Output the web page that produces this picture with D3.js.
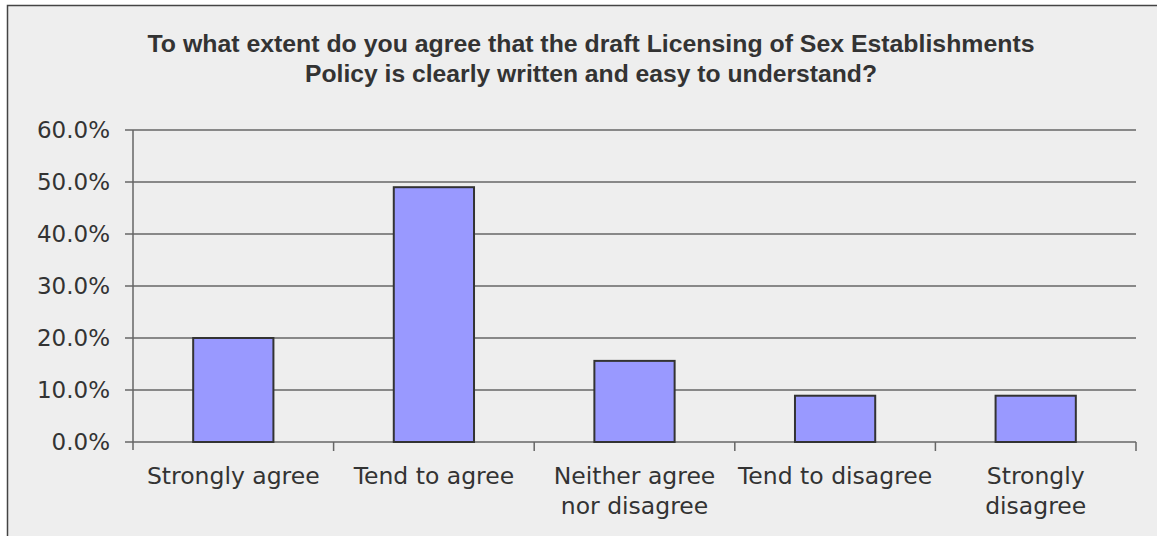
<!DOCTYPE html>
<html><head><meta charset="utf-8">
<script src="https://cdn.jsdelivr.net/npm/d3@7"></script>
<style>body{margin:0;background:#fff;}svg{display:block;}</style>
</head><body>
<svg id="c" width="1157" height="536"></svg>
<script>
const categories = [["Strongly agree"], ["Tend to agree"], ["Neither agree", "nor disagree"], ["Tend to disagree"], ["Strongly", "disagree"]];
const values = [0.200, 0.490, 0.156, 0.089, 0.089];
const yTicks = [0, 0.1, 0.2, 0.3, 0.4, 0.5, 0.6];
const titleLines = ["To what extent do you agree that the draft Licensing of Sex Establishments", "Policy is clearly written and easy to understand?"];

const svg = d3.select("#c");
svg.append("rect").attr("x", 7.5).attr("y", 5.5).attr("width", 1160).attr("height", 540)
  .attr("fill", "#eeeeee").attr("stroke", "#444").attr("stroke-width", 1.5);

const m = {left: 133, right: 1136, top: 130, bottom: 442};
const x = d3.scaleBand().domain(d3.range(categories.length)).range([m.left, m.right]).paddingInner(0.6).paddingOuter(0.3);
const xb = d3.scaleBand().domain(d3.range(categories.length)).range([m.left, m.right]);
const y = d3.scaleLinear().domain([0, 0.6]).range([m.bottom, m.top]);

// gridlines
svg.append("g").selectAll("line").data(yTicks).join("line")
  .attr("x1", m.left - 8).attr("x2", m.right).attr("y1", d => y(d)).attr("y2", d => y(d))
  .attr("stroke", "#666").attr("stroke-width", 1.5);

// y axis line
svg.append("line").attr("x1", m.left).attr("x2", m.left).attr("y1", m.top).attr("y2", m.bottom + 8)
  .attr("stroke", "#666").attr("stroke-width", 1.5);

// x ticks
svg.append("g").selectAll("line").data(d3.range(1, categories.length + 1)).join("line")
  .attr("x1", i => xb.step() * i + m.left).attr("x2", i => xb.step() * i + m.left)
  .attr("y1", m.bottom).attr("y2", m.bottom + 9).attr("stroke", "#666").attr("stroke-width", 1.5);

// y labels
svg.append("g").selectAll("text").data(yTicks).join("text")
  .attr("x", 110).attr("y", d => y(d)).attr("dy", "0.36em").attr("text-anchor", "end")
  .attr("font-family", "DejaVu Sans").attr("font-size", 23).attr("fill", "#333")
  .text(d => d3.format(".1%")(d));

// bars
svg.append("g").selectAll("rect").data(values).join("rect")
  .attr("x", (d, i) => x(i)).attr("width", x.bandwidth())
  .attr("y", d => y(d)).attr("height", d => y(0) - y(d))
  .attr("fill", "#9999ff").attr("stroke", "#333").attr("stroke-width", 2);

// category labels
const cl = svg.append("g").selectAll("text").data(categories).join("text")
  .attr("text-anchor", "middle").attr("font-family", "DejaVu Sans").attr("font-size", 23.5).attr("fill", "#333")
  .attr("transform", (d, i) => `translate(${xb(i) + xb.bandwidth() / 2},484)`);
cl.selectAll("tspan").data(d => d).join("tspan").attr("x", 0).attr("y", (d, j) => j * 30).text(d => d);

// title
const tw = [887, 572];
svg.append("g").selectAll("text").data(titleLines).join("text")
  .attr("x", 591).attr("y", (d, i) => 52 + i * 30).attr("text-anchor", "middle")
  .attr("font-family", "Liberation Sans, Arial").attr("font-weight", "bold").attr("font-size", 24).attr("fill", "#333")
  .attr("textLength", (d, i) => tw[i]).attr("lengthAdjust", "spacingAndGlyphs")
  .text(d => d);
</script>
</body></html>
